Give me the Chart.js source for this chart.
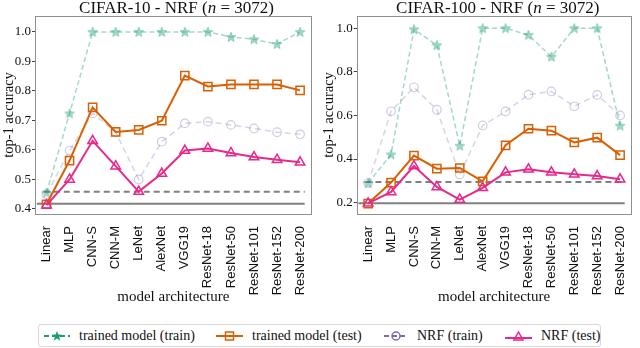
<!DOCTYPE html>
<html>
<head>
<meta charset="utf-8">
<script src="https://cdn.jsdelivr.net/npm/chart.js@4.4.0/dist/chart.umd.min.js"></script>
<style>
  body { margin: 0; background: #fff; width: 640px; height: 348px; position: relative; overflow: hidden; font-family: "Liberation Serif", serif; color: #111; }
  .panel { position: absolute; top: 0; width: 320px; height: 306px; }
  .title { position: absolute; top: -1px; font-size: 17px; line-height: 17px; white-space: nowrap; transform: translateX(-50%); }
  #legend { position: absolute; left: 38px; top: 324px; width: 563px; height: 23px; border: 1px solid #d9d9d9; border-radius: 3px; box-sizing: border-box; font-size: 14px; }
  .item { position: absolute; top: 0; height: 21px; display: flex; align-items: center; white-space: nowrap; }
  .item svg { margin-right: 9px; }
</style>
</head>
<body>
<div class="panel" style="left:0"><canvas id="c10"></canvas></div>
<div class="panel" style="left:320px"><canvas id="c100"></canvas></div>
<div class="title" style="left:176.5px">CIFAR-10 - NRF (<i>n</i> = 3072)</div>
<div class="title" style="left:497.8px">CIFAR-100 - NRF (<i>n</i> = 3072)</div>

<div id="legend">
  <div class="item" style="left:5px">
    <svg width="26" height="12"><line x1="0" y1="6" x2="26" y2="6" stroke="#1b9e77" stroke-width="2" stroke-dasharray="5,3"/>
      <polygon points="13,1 14.4,4.6 18.2,4.7 15.2,7 16.3,10.7 13,8.6 9.7,10.7 10.8,7 7.8,4.7 11.6,4.6" fill="#1b9e77"/></svg>
    <span>trained model (train)</span>
  </div>
  <div class="item" style="left:177px">
    <svg width="27" height="12"><line x1="0" y1="6" x2="27" y2="6" stroke="#d95f02" stroke-width="2"/>
      <rect x="9.5" y="2" width="8" height="8" fill="none" stroke="#d95f02" stroke-width="1.5"/></svg>
    <span>trained model (test)</span>
  </div>
  <div class="item" style="left:345px">
    <svg width="24" height="12"><line x1="0" y1="6" x2="24" y2="6" stroke="#7570b3" stroke-width="2" stroke-dasharray="5,3"/>
      <circle cx="12" cy="6" r="4" fill="none" stroke="#7570b3" stroke-width="1.5"/></svg>
    <span>NRF (train)</span>
  </div>
  <div class="item" style="left:466px">
    <svg width="27" height="12"><line x1="0" y1="8" x2="27" y2="8" stroke="#e7298a" stroke-width="2"/>
      <polygon points="13.5,2 18,10 9,10" fill="none" stroke="#e7298a" stroke-width="1.5"/></svg>
    <span>NRF (test)</span>
  </div>
</div>

<script>
const models = ["Linear", "MLP", "CNN-S", "CNN-M", "LeNet", "AlexNet", "VGG19", "ResNet-18", "ResNet-50", "ResNet-101", "ResNet-152", "ResNet-200"];

// CIFAR-10
const c10TrainedTrain = [0.455, 0.724, 1.0, 1.0, 1.0, 1.0, 1.0, 1.0, 0.983, 0.975, 0.959, 1.0];
const c10TrainedTest = [0.416, 0.564, 0.744, 0.661, 0.668, 0.699, 0.852, 0.815, 0.822, 0.822, 0.822, 0.802];
const c10NrfTrain = [0.45, 0.598, 0.724, 0.66, 0.5, 0.628, 0.69, 0.696, 0.685, 0.673, 0.66, 0.653];
const c10NrfTest = [0.413, 0.5, 0.631, 0.545, 0.459, 0.52, 0.598, 0.605, 0.59, 0.576, 0.567, 0.558];
const c10Ticks = [0.4, 0.5, 0.6, 0.7, 0.8, 0.9, 1.0];
const c10Baselines = [0.458, 0.418]; // dashed, solid

// CIFAR-100
const c100TrainedTrain = [0.29, 0.421, 0.995, 0.922, 0.461, 1.0, 1.0, 0.969, 0.869, 1.0, 1.0, 0.553];
const c100TrainedTest = [0.196, 0.292, 0.416, 0.356, 0.359, 0.298, 0.463, 0.539, 0.53, 0.476, 0.498, 0.418];
const c100NrfTrain = [0.29, 0.619, 0.729, 0.626, 0.329, 0.554, 0.618, 0.695, 0.71, 0.642, 0.694, 0.6];
const c100NrfTest = [0.197, 0.249, 0.368, 0.272, 0.214, 0.268, 0.339, 0.353, 0.339, 0.33, 0.322, 0.307];
const c100Ticks = [0.2, 0.4, 0.6, 0.8, 1.0];
const c100Baselines = [0.295, 0.197];

const serif = "'Liberation Serif', serif";
const sans = "'Liberation Sans', Arial, sans-serif";

// filled star marker
function starImage(fill, stroke) {
  const c = document.createElement("canvas");
  c.width = 12; c.height = 12;
  const g = c.getContext("2d");
  g.beginPath();
  for (let i = 0; i < 10; i++) {
    const r = i % 2 === 0 ? 5.2 : 2.2;
    const a = -Math.PI / 2 + (i * Math.PI) / 5;
    g.lineTo(6 + r * Math.cos(a), 6.4 + r * Math.sin(a));
  }
  g.closePath();
  g.fillStyle = fill;
  g.fill();
  g.strokeStyle = stroke;
  g.lineWidth = 0.8;
  g.stroke();
  return c;
}
const star = starImage("rgba(27,158,119,0.4)", "rgba(27,158,119,0.45)");

const framePlugin = {
  id: "frame",
  beforeDatasetsDraw(chart, args, opts) {
    const { ctx, scales: { x, y } } = chart;
    const step = x.getPixelForValue(1) - x.getPixelForValue(0);
    const x0 = x.getPixelForValue(0) - 0.42 * step;
    const x1 = x.getPixelForValue(models.length - 1) + 0.2 * step;
    ctx.save();
    ctx.strokeStyle = "#808080";
    ctx.lineWidth = 2;
    ctx.setLineDash([6, 4]);
    ctx.beginPath();
    ctx.moveTo(x0 + 0.3 * step, y.getPixelForValue(opts.lines[0]));
    ctx.lineTo(x1, y.getPixelForValue(opts.lines[0]));
    ctx.stroke();
    ctx.setLineDash([]);
    ctx.beginPath();
    ctx.moveTo(x0, y.getPixelForValue(opts.lines[1]));
    ctx.lineTo(x1, y.getPixelForValue(opts.lines[1]));
    ctx.stroke();
    ctx.restore();
  },
  afterDraw(chart) {
    const { ctx, chartArea: a } = chart;
    ctx.save();
    ctx.strokeStyle = "#8f8f8f";
    ctx.lineWidth = 1;
    ctx.strokeRect(Math.round(a.left) + 0.5, Math.round(a.top) + 0.5, Math.round(a.right - a.left) - 1, Math.round(a.bottom - a.top));
    ctx.restore();
  },
};

function makePanel(id, series, ticks, baselines, yMin, yMax, yWidth, padRight) {
  new Chart(document.getElementById(id), {
    type: "line",
    data: {
      labels: models,
      datasets: [
        {
          label: "trained model (train)",
          data: series[0],
          borderColor: "rgba(27,158,119,0.4)",
          borderWidth: 1.5,
          borderDash: [5, 3],
          pointStyle: star,
          order: 4,
        },
        {
          label: "trained model (test)",
          data: series[1],
          borderColor: "#d95f02",
          borderWidth: 2,
          pointStyle: "rect",
          pointRadius: 5.8,
          pointBorderWidth: 1.5,
          pointBorderColor: "#d95f02",
          pointBackgroundColor: "rgba(255,255,255,0)",
          order: 2,
        },
        {
          label: "NRF (train)",
          data: series[2],
          borderColor: "rgba(117,112,179,0.3)",
          borderWidth: 1.5,
          borderDash: [6, 4],
          pointStyle: "circle",
          pointRadius: 4.3,
          pointBorderWidth: 1.2,
          pointBorderColor: "rgba(117,112,179,0.35)",
          pointBackgroundColor: "rgba(255,255,255,0)",
          order: 3,
        },
        {
          label: "NRF (test)",
          data: series[3],
          borderColor: "#e7298a",
          borderWidth: 2,
          pointStyle: "triangle",
          pointRadius: 5.5,
          pointBorderWidth: 1.5,
          pointBorderColor: "#e7298a",
          pointBackgroundColor: "rgba(255,255,255,0)",
          order: 1,
        },
      ],
    },
    options: {
      responsive: true,
      maintainAspectRatio: false,
      animation: false,
      events: [],
      layout: { padding: { top: 16, right: padRight, bottom: 0, left: 0 } },
      plugins: {
        legend: { display: false },
        tooltip: { enabled: false },
        frame: { lines: baselines },
      },
      scales: {
        x: {
          offset: true,
          grid: { display: false },
          border: { display: false },
          ticks: {
            minRotation: 90,
            maxRotation: 90,
            autoSkip: false,
            padding: 4,
            color: "#111",
            font: { family: sans, size: 13 },
          },
          title: {
            display: true,
            text: "model architecture",
            color: "#111",
            padding: 0,
            font: { family: serif, size: 15 },
          },
          afterFit(scale) { scale.height = 92; },
        },
        y: {
          min: yMin,
          max: yMax,
          grid: { drawOnChartArea: false, tickLength: 3, tickColor: "#444" },
          border: { display: false },
          afterBuildTicks(scale) { scale.ticks = ticks.map((v) => ({ value: v })); },
          ticks: {
            padding: 1,
            color: "#111",
            font: { family: serif, size: 13 },
            callback: (v) => v.toFixed(1),
          },
          title: {
            display: true,
            text: "top-1 accuracy",
            color: "#111",
            padding: 0,
            font: { family: serif, size: 14.5 },
          },
          afterFit(scale) { scale.width = yWidth; },
        },
      },
    },
    plugins: [framePlugin],
  });
}

makePanel("c10", [c10TrainedTrain, c10TrainedTest, c10NrfTrain, c10NrfTest], c10Ticks, c10Baselines, 0.383, 1.054, 35, 2);
makePanel("c100", [c100TrainedTrain, c100TrainedTest, c100NrfTrain, c100NrfTest], c100Ticks, c100Baselines, 0.148, 1.056, 36.7, 1);
</script>
</body>
</html>
